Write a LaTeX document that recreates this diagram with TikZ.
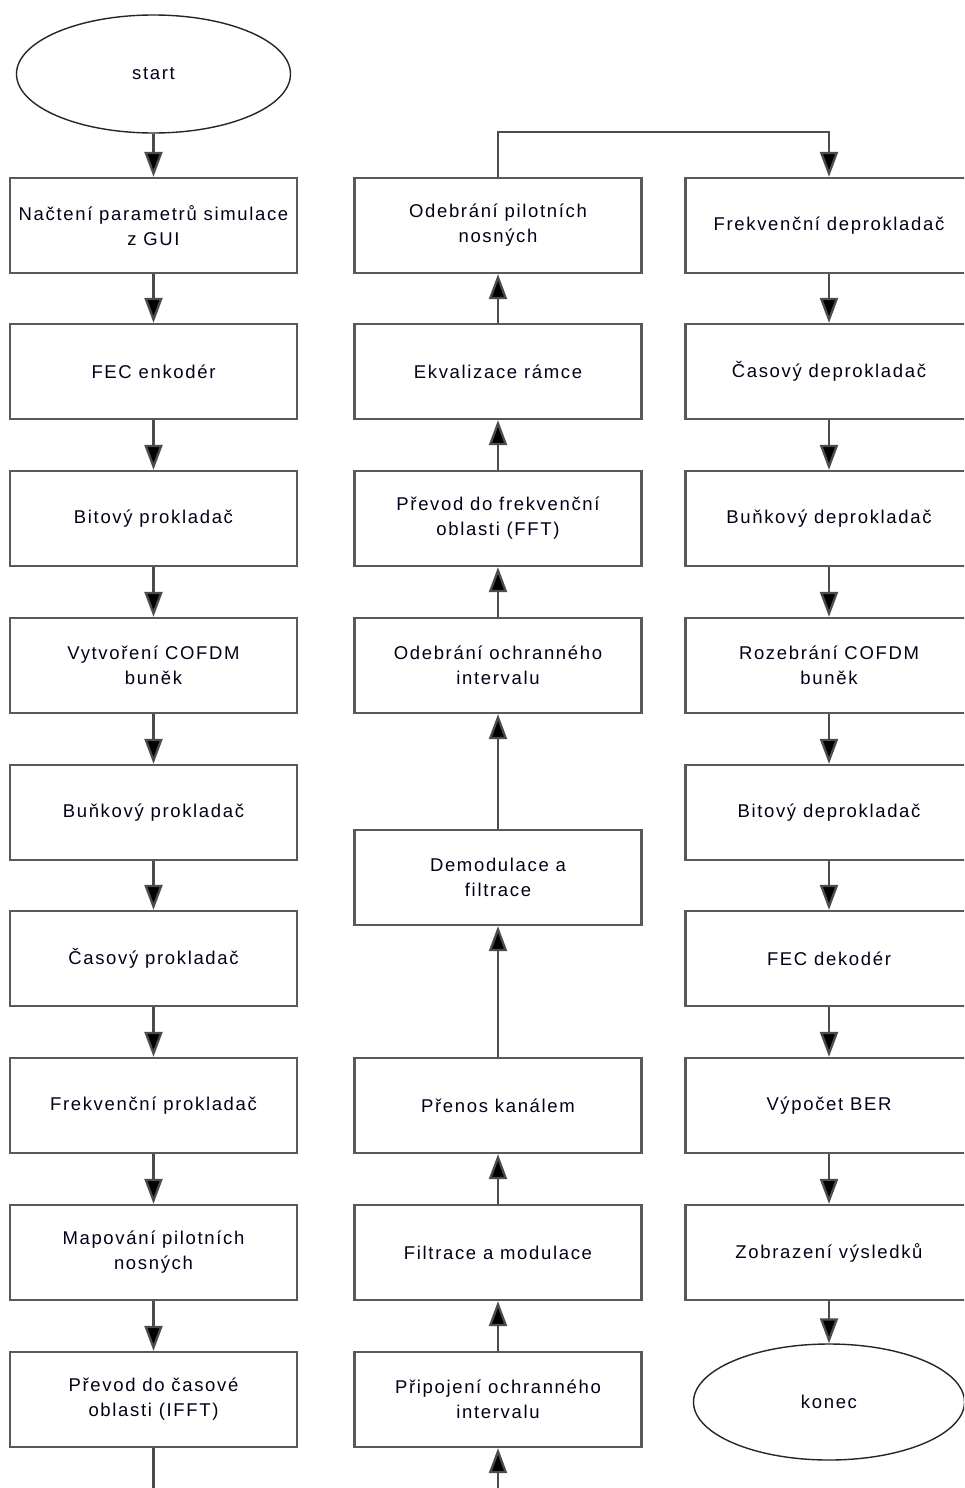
\documentclass[tikz,border=0pt]{standalone}
\usepackage{fontspec}
\setmainfont[LetterSpace=9]{Liberation Sans}
\usetikzlibrary{arrows.meta, shapes.geometric}
\begin{document}
\begin{tikzpicture}[x=1pt, y=-1pt,
  lbl/.style={font=\fontsize{18.5}{25}\selectfont, text=black!90!blue, align=center},
  box/.style={lbl, draw=black!65, line width=2.3pt, fill=white,
              minimum width=287pt, minimum height=95pt, inner sep=0pt},
  term/.style={lbl, ellipse, draw=black!85, line width=1.4pt, fill=white, inner sep=0pt},
  flow/.style={draw=black!70, line width=2.3pt,
               -{Triangle[length=25pt,width=18pt,fill=black]}}]
\useasboundingbox (0,0) rectangle (964,1488);
\fill[white] (0,0) rectangle (964,1488);
\clip (0,0) rectangle (964,1488);

% transmitter chain (left column)
\node[term, minimum width=274pt, minimum height=118pt] (start) at (153.5,74) {start};
\node[box] (l1) at (153.5,225.5)  {Načtení parametrů simulace\\z GUI};
\node[box] (l2) at (153.5,371.5)  {FEC enkodér};
\node[box] (l3) at (153.5,518.5)  {Bitový prokladač};
\node[box] (l4) at (153.5,665.5)  {Vytvoření COFDM\\buněk};
\node[box] (l5) at (153.5,812.5)  {Buňkový prokladač};
\node[box] (l6) at (153.5,958.5)  {Časový prokladač};
\node[box] (l7) at (153.5,1105.5) {Frekvenční prokladač};
\node[box] (l8) at (153.5,1252.5) {Mapování pilotních\\nosných};
\node[box] (l9) at (153.5,1399.5) {Převod do časové\\oblasti (IFFT)};

% channel and receiver front end (middle column, bottom to top)
\node[box] (m1) at (498,1399.5) {Připojení ochranného\\intervalu};
\node[box] (m2) at (498,1252.5) {Filtrace a modulace};
\node[box] (m3) at (498,1105.5) {Přenos kanálem};
\node[box] (m4) at (498,877.5)  {Demodulace a\\filtrace};
\node[box] (m5) at (498,665.5)  {Odebrání ochranného\\intervalu};
\node[box] (m6) at (498,518.5)  {Převod do frekvenční\\oblasti (FFT)};
\node[box] (m7) at (498,371.5)  {Ekvalizace rámce};
\node[box] (m8) at (498,225.5)  {Odebrání pilotních\\nosných};

% receiver back end (right column)
\node[box] (r1) at (829,225.5)  {Frekvenční deprokladač};
\node[box] (r2) at (829,371.5)  {Časový deprokladač};
\node[box] (r3) at (829,518.5)  {Buňkový deprokladač};
\node[box] (r4) at (829,665.5)  {Rozebrání COFDM\\buněk};
\node[box] (r5) at (829,812.5)  {Bitový deprokladač};
\node[box] (r6) at (829,958.5)  {FEC dekodér};
\node[box] (r7) at (829,1105.5) {Výpočet BER};
\node[box] (r8) at (829,1252.5) {Zobrazení výsledků};
\node[term, minimum width=271pt, minimum height=116pt] (end) at (829,1402) {konec};

% connectors
\draw[flow] (start) -- (l1);
\foreach \a/\b in {l1/l2,l2/l3,l3/l4,l4/l5,l5/l6,l6/l7,l7/l8,l8/l9,
                   m1/m2,m2/m3,m3/m4,m4/m5,m5/m6,m6/m7,m7/m8,
                   r1/r2,r2/r3,r3/r4,r4/r5,r5/r6,r6/r7,r7/r8,r8/end}
  \draw[flow] (\a) -- (\b);
\draw[flow] (l9.south) -- ++(0,60) -| (m1.south);
\draw[flow] (m8.north) -- ++(0,-45) -| (r1.north);
\end{tikzpicture}
\end{document}
